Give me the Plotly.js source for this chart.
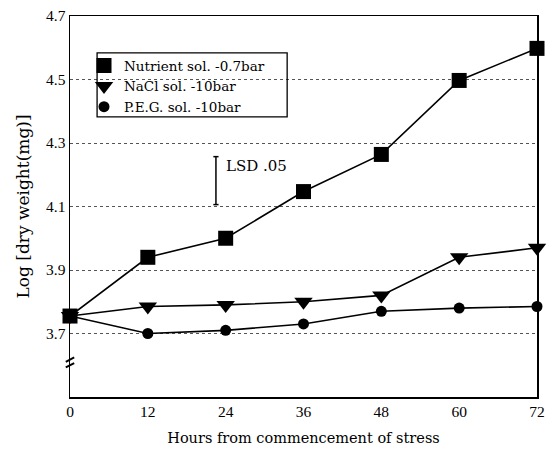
<!DOCTYPE html>
<html><head><meta charset="utf-8">
<script src="https://cdn.plot.ly/plotly-3.0.1.min.js"></script>
<style>body{margin:0;background:#fff}#c{width:549px;height:450px}</style>
</head><body><div id="c"></div>
<script>
const hours = [0, 12, 24, 36, 48, 60, 72];
const nutrient = [3.755, 3.94, 4.00, 4.147, 4.264, 4.497, 4.598];
const nacl = [3.755, 3.785, 3.79, 3.80, 3.82, 3.94, 3.97];
const peg = [3.755, 3.70, 3.71, 3.73, 3.77, 3.78, 3.785];
const seriesNames = ["Nutrient sol. -0.7bar", "NaCl sol. -10bar", "P.E.G. sol. -10bar"];
const yTicks = [3.7, 3.9, 4.1, 4.3, 4.5, 4.7];
const xTicks = [0, 12, 24, 36, 48, 60, 72];
const lsd = {x: 22.5, low: 4.106, high: 4.257, label: "LSD .05"};
const breakAt = 3.609;

const tickFont = "'Liberation Serif', 'Times New Roman', serif";
const textFont = "'DejaVu Serif', serif";
const symbols = ["square", "triangle-down", "circle"];
const sizes = [15, 16, 11];
const data = [];
[nutrient, nacl, peg].forEach((ys, i) => {
  data.push({x: hours, y: ys, mode: "lines+markers", showlegend: false, cliponaxis: false,
    line: {color: "#000", width: 1.6},
    marker: {symbol: symbols[i], size: sizes[i], color: "#000"}});
});
[nutrient, nacl, peg].forEach((ys, i) => {
  data.push({x: [null], y: [null], mode: "markers", name: seriesNames[i],
    marker: {symbol: symbols[i], size: sizes[i], color: "#000"}});
});

const shapes = [
  {type: "rect", xref: "paper", yref: "paper", x0: 0.058, x1: 0.465, y0: 0.735, y1: 0.903,
    line: {color: "#000", width: 1.3}, fillcolor: "rgba(0,0,0,0)"},
  {type: "line", xref: "x", yref: "y", x0: lsd.x, x1: lsd.x, y0: lsd.low, y1: lsd.high,
    line: {color: "#000", width: 1.5}},
  {type: "line", xref: "x", yref: "y", x0: lsd.x - 0.4, x1: lsd.x + 0.4, y0: lsd.high, y1: lsd.high,
    line: {color: "#000", width: 1.5}},
  {type: "line", xref: "x", yref: "y", x0: lsd.x - 0.4, x1: lsd.x + 0.4, y0: lsd.low, y1: lsd.low,
    line: {color: "#000", width: 1.5}}
];
[-0.009, 0.009].forEach(d => {
  shapes.push({type: "line", xref: "paper", yref: "y", x0: -0.009, x1: 0.009,
    y0: breakAt + d - 0.007, y1: breakAt + d + 0.007, line: {color: "#000", width: 2}});
});

const layout = {
  width: 549, height: 450,
  margin: {l: 70, r: 12, t: 16, b: 53},
  paper_bgcolor: "#fff", plot_bgcolor: "#fff",
  font: {family: tickFont, size: 15, color: "#000"},
  showlegend: true,
  legend: {x: 0.03, y: 0.91, xanchor: "left", yanchor: "top",
    borderwidth: 0, bgcolor: "rgba(0,0,0,0)",
    font: {family: textFont, size: 13.5, color: "#000"}, itemwidth: 30, tracegroupgap: 0},
  xaxis: {range: [0, 72], tickvals: xTicks, ticktext: xTicks.map(String),
    showline: true, mirror: true, linecolor: "#000", linewidth: 1.5,
    showgrid: false, zeroline: false, ticks: "", ticklen: 0,
    tickfont: {family: tickFont, size: 15.5},
    title: {text: "Hours from commencement of stress", font: {family: textFont, size: 14.5}, standoff: 14}},
  yaxis: {range: [3.5, 4.7], tickvals: yTicks, ticktext: yTicks.map(v => v.toFixed(1)),
    showline: true, mirror: true, linecolor: "#000", linewidth: 1.5,
    showgrid: true, gridcolor: "#555", griddash: "dot", gridwidth: 1,
    zeroline: false, ticks: "", tickfont: {family: tickFont, size: 15.5},
    title: {text: "Log [dry weight(mg)]", font: {family: textFont, size: 17}, standoff: 12}},
  shapes: shapes,
  annotations: [
    {xref: "x", yref: "y", x: lsd.x + 1.3, y: (lsd.low + lsd.high) / 2 + 0.045, text: lsd.label,
      showarrow: false, xanchor: "left", font: {family: textFont, size: 15}}
  ]
};
Plotly.newPlot("c", data, layout, {displayModeBar: false, staticPlot: true});
</script></body></html>
